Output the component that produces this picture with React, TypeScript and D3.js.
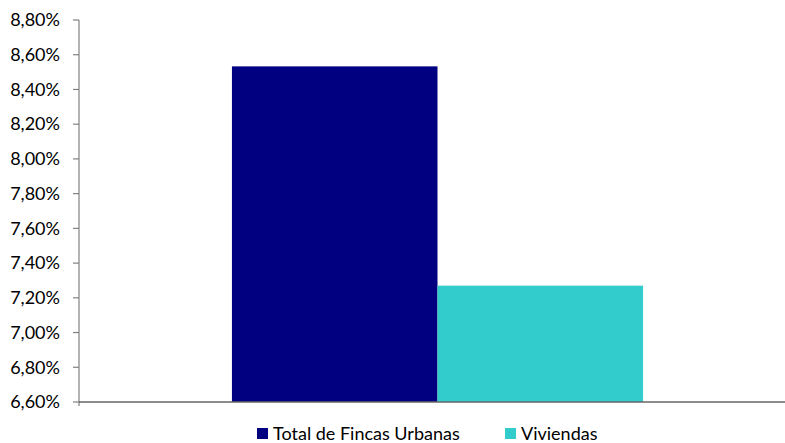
import React from "react";
import * as d3 from "d3";

const categories = ["Total"];
const seriesNames = ["Total de Fincas Urbanas", "Viviendas"];
const seriesValues = [8.533, 7.27];
const seriesColors = ["#000080", "#33CCCC"];
const yTicks = [6.6, 6.8, 7.0, 7.2, 7.4, 7.6, 7.8, 8.0, 8.2, 8.4, 8.6, 8.8];

const W = 785;
const H = 443;
const left = 79;
const right = 796;
const top = 20;
const bottom = 402;
const FONT = "Lato, 'Open Sans', sans-serif";

export default function App() {
  const y = d3.scaleLinear().domain([6.6, 8.8]).range([bottom, top]);
  const xOuter = d3.scaleBand<string>().domain(categories).range([left, right]).paddingInner(0).paddingOuter(0.372);
  const xInner = d3.scaleBand<string>().domain(seriesNames).range([0, xOuter.bandwidth()]).padding(0);
  const fmt = (v: number) => v.toFixed(2).replace(".", ",") + "%";

  return (
    <svg width={W} height={H} style={{ position: "absolute", left: 0, top: 0, background: "#fff" }}>
      <rect width={W} height={H} fill="#fff" />
      {categories.map((c) =>
        seriesNames.map((s, i) => {
          const x0 = (xOuter(c) ?? 0) + (xInner(s) ?? 0);
          return (
            <rect key={s} x={x0} y={y(seriesValues[i])} width={xInner.bandwidth()} height={bottom - y(seriesValues[i])} fill={seriesColors[i]} />
          );
        })
      )}
      {/* y axis */}
      <line x1={left} x2={left} y1={top} y2={bottom + 4} stroke="#808080" strokeWidth={1.2} />
      {yTicks.map((t) => (
        <g key={t}>
          <line x1={left - 6} x2={left} y1={y(t)} y2={y(t)} stroke="#808080" strokeWidth={1.2} />
          <text x={60} y={y(t)} dy="0.35em" textAnchor="end" fontFamily={FONT} fontSize={18} fill="#000">
            {fmt(t)}
          </text>
        </g>
      ))}
      {/* x axis */}
      <line x1={left} x2={W} y1={bottom} y2={bottom} stroke="#666" strokeWidth={1.5} />
      {/* legend */}
      {seriesNames.map((s, i) => {
        const lx = i === 0 ? 257 : 505;
        return (
          <g key={s}>
            <rect x={lx} y={428} width={11} height={11} fill={seriesColors[i]} />
            <text x={lx + 16} y={434} dy="0.35em" fontFamily={FONT} fontSize={18} fill="#000">
              {s}
            </text>
          </g>
        );
      })}
    </svg>
  );
}
